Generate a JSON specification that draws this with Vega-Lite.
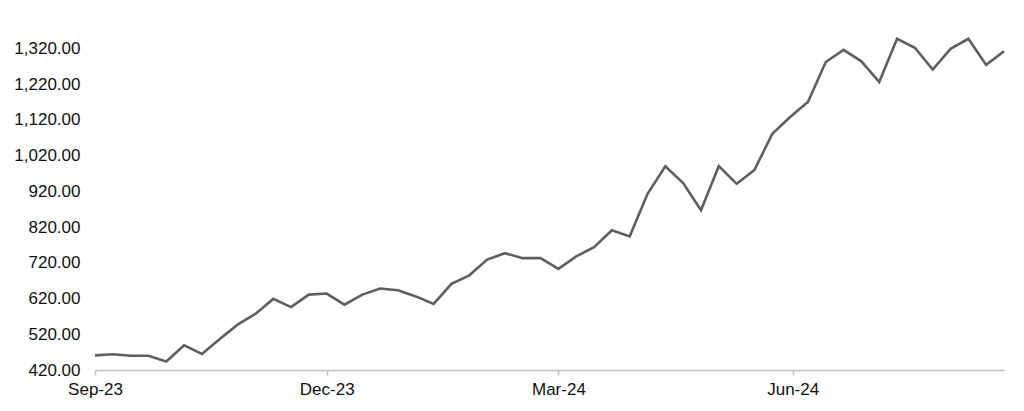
{
  "$schema": "https://vega.github.io/schema/vega-lite/v6.json",
  "autosize": {"type": "none"},
  "width": 909,
  "height": 343,
  "padding": {"left": 95, "top": 27, "right": 20, "bottom": 41},
  "background": "white",
  "config": {
    "view": {"stroke": null},
    "font": "Liberation Sans",
    "axis": {"labelFont": "Liberation Sans", "labelFontSize": 17, "labelColor": "#111111", "grid": false, "title": null}
  },
  "data": {
    "values": [
      {"date": "2023-09-01", "value": 461},
      {"date": "2023-09-08", "value": 464},
      {"date": "2023-09-15", "value": 460},
      {"date": "2023-09-22", "value": 460},
      {"date": "2023-09-29", "value": 444},
      {"date": "2023-10-06", "value": 489},
      {"date": "2023-10-13", "value": 465},
      {"date": "2023-10-20", "value": 507},
      {"date": "2023-10-27", "value": 547},
      {"date": "2023-11-03", "value": 577},
      {"date": "2023-11-10", "value": 619},
      {"date": "2023-11-17", "value": 596},
      {"date": "2023-11-24", "value": 631},
      {"date": "2023-12-01", "value": 634},
      {"date": "2023-12-08", "value": 603},
      {"date": "2023-12-15", "value": 631},
      {"date": "2023-12-22", "value": 648},
      {"date": "2023-12-29", "value": 643},
      {"date": "2024-01-05", "value": 626},
      {"date": "2024-01-12", "value": 605},
      {"date": "2024-01-19", "value": 661},
      {"date": "2024-01-26", "value": 685},
      {"date": "2024-02-02", "value": 729},
      {"date": "2024-02-09", "value": 747},
      {"date": "2024-02-16", "value": 733},
      {"date": "2024-02-23", "value": 733},
      {"date": "2024-03-01", "value": 703},
      {"date": "2024-03-08", "value": 738},
      {"date": "2024-03-15", "value": 764},
      {"date": "2024-03-22", "value": 811},
      {"date": "2024-03-29", "value": 794},
      {"date": "2024-04-05", "value": 913},
      {"date": "2024-04-12", "value": 990},
      {"date": "2024-04-19", "value": 943},
      {"date": "2024-04-26", "value": 867},
      {"date": "2024-05-03", "value": 991},
      {"date": "2024-05-10", "value": 941},
      {"date": "2024-05-17", "value": 980},
      {"date": "2024-05-24", "value": 1081},
      {"date": "2024-05-31", "value": 1128},
      {"date": "2024-06-07", "value": 1170},
      {"date": "2024-06-14", "value": 1282},
      {"date": "2024-06-21", "value": 1316},
      {"date": "2024-06-28", "value": 1284},
      {"date": "2024-07-05", "value": 1226},
      {"date": "2024-07-12", "value": 1347},
      {"date": "2024-07-19", "value": 1322},
      {"date": "2024-07-26", "value": 1261},
      {"date": "2024-08-02", "value": 1319},
      {"date": "2024-08-09", "value": 1347},
      {"date": "2024-08-16", "value": 1274},
      {"date": "2024-08-23", "value": 1312}
    ]
  },
  "mark": {"type": "line", "color": "#5f5f5f", "strokeWidth": 2.6, "clip": false},
  "encoding": {
    "x": {
      "field": "date",
      "type": "temporal",
      "scale": {
        "type": "utc",
        "domain": [
          {"year": 2023, "month": 9, "date": 1, "utc": true},
          {"year": 2024, "month": 8, "date": 23, "utc": true}
        ]
      },
      "axis": {
        "values": [
          {"year": 2023, "month": 9, "date": 1, "utc": true},
          {"year": 2023, "month": 12, "date": 1, "utc": true},
          {"year": 2024, "month": 3, "date": 1, "utc": true},
          {"year": 2024, "month": 6, "date": 1, "utc": true}
        ],
        "labelExpr": "utcFormat(datum.value, '%b-%y')",
        "domainColor": "#bfbfbf",
        "domainWidth": 1.5,
        "tickColor": "#bfbfbf",
        "tickWidth": 1.5,
        "tickSize": 5,
        "labelPadding": 6,
        "labelAlign": "center",
        "labelFlush": false,
        "labelOverlap": false
      }
    },
    "y": {
      "field": "value",
      "type": "quantitative",
      "scale": {"domain": [420, 1380], "nice": false, "zero": false},
      "axis": {
        "values": [420, 520, 620, 720, 820, 920, 1020, 1120, 1220, 1320],
        "format": ",.2f",
        "domain": false,
        "ticks": false,
        "labelPadding": 15,
        "labelOverlap": false
      }
    }
  }
}
